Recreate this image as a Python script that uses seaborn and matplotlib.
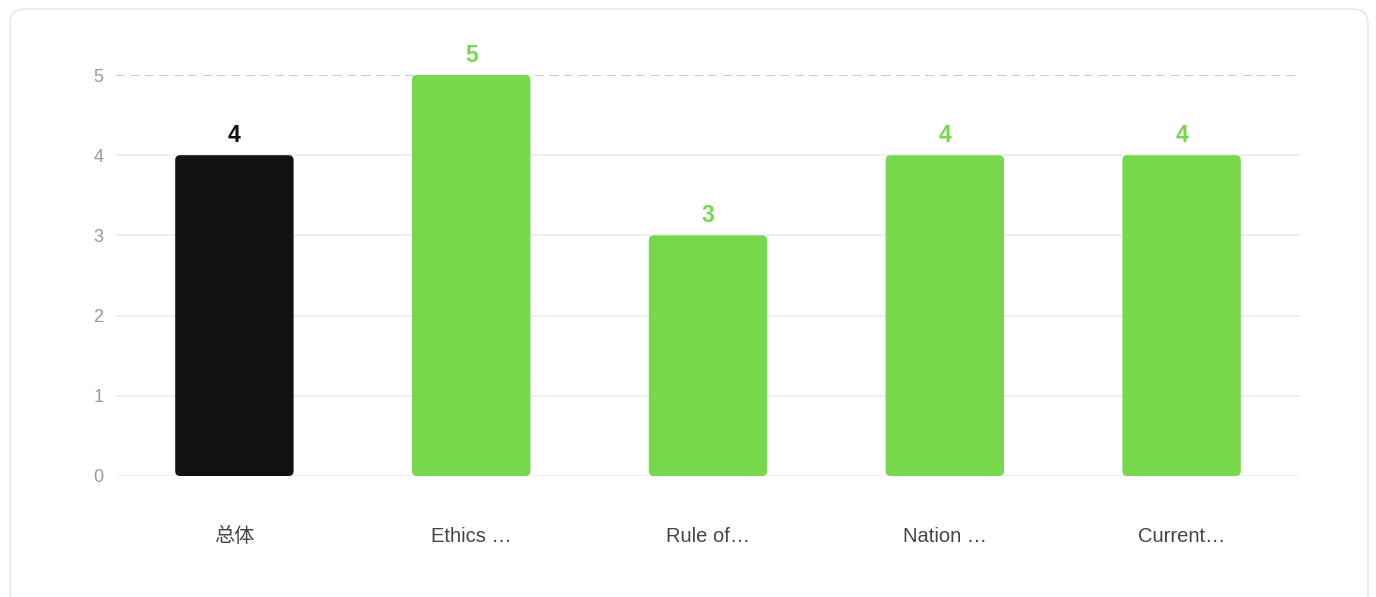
import numpy as np
import pandas as pd
import matplotlib.pyplot as plt
import seaborn as sns
from matplotlib.patches import FancyBboxPatch

categories = ['总体', 'Ethics …', 'Rule of…', 'Nation …', 'Current…']
scores = [4, 5, 3, 4, 4]
bar_colors = ['#111111', '#78d84b', '#78d84b', '#78d84b', '#78d84b']
y_ticks = [0, 1, 2, 3, 4, 5]

df = pd.DataFrame({'category': categories, 'score': scores})

sns.set_theme(style='white')
plt.rcParams['font.family'] = ['Liberation Sans', 'Noto Sans CJK SC', 'DejaVu Sans']

fig = plt.figure(figsize=(13.76, 5.97), dpi=100)
W, H = 1376, 597

# card background
card = FancyBboxPatch((10 / W, -20 / H), 1358 / W, (H - 9 + 20) / H,
                      boxstyle='round,pad=0,rounding_size=0.011',
                      mutation_aspect=W / H, transform=fig.transFigure,
                      facecolor='white', edgecolor='#e8e8e8', linewidth=1.2,
                      zorder=-5)
fig.patches.append(card)

ax = fig.add_axes([116 / W, (H - 476) / H, (1300 - 116) / W, (476 - 75) / H])
ax.set_facecolor('none')
ax.set_zorder(2)

sns.barplot(data=df, x='category', y='score', hue='category',
            palette=bar_colors, width=0.5, legend=False, ax=ax, zorder=3)

ax.set_xlim(-0.5, len(categories) - 0.5)
ax.set_ylim(0, 5)

# rounded bars
px_x = (1300 - 116) / len(categories)
px_y = (476 - 75) / 5
aspect = px_x / px_y
rad = 5 / px_x
for p, c in zip(list(ax.patches), bar_colors):
    x0, y0 = p.get_x(), p.get_y()
    w, h = p.get_width(), p.get_height()
    p.remove()
    ax.add_patch(FancyBboxPatch((x0, y0), w, h,
                                boxstyle=f'round,pad=0,rounding_size={rad}',
                                mutation_aspect=aspect, facecolor=c,
                                edgecolor='none', zorder=3))

# value labels
for i, (v, c) in enumerate(zip(scores, bar_colors)):
    ax.annotate(str(v), (i, v), xytext=(0, 14), textcoords='offset points',
                ha='center', va='center', fontsize=16.5, fontweight='bold',
                color=c, annotation_clip=False)

# grid
for t in y_ticks:
    if t == 5:
        ax.axhline(t, color='#c8c8c8', linewidth=1.3, linestyle=(0, (5, 3)), zorder=1)
    else:
        ax.axhline(t, color='#eeeeee', linewidth=1.2, zorder=1)

for s in ax.spines.values():
    s.set_visible(False)

ax.set_yticks(y_ticks)
ax.set_yticklabels([str(t) for t in y_ticks])
ax.tick_params(axis='y', length=0, pad=9, labelsize=13, labelcolor='#999999')
ax.tick_params(axis='x', length=0, pad=36.5, labelsize=14.5, labelcolor='#444444')
ax.set_xlabel('')
ax.set_ylabel('')

fig.savefig('out.png', dpi=100)
